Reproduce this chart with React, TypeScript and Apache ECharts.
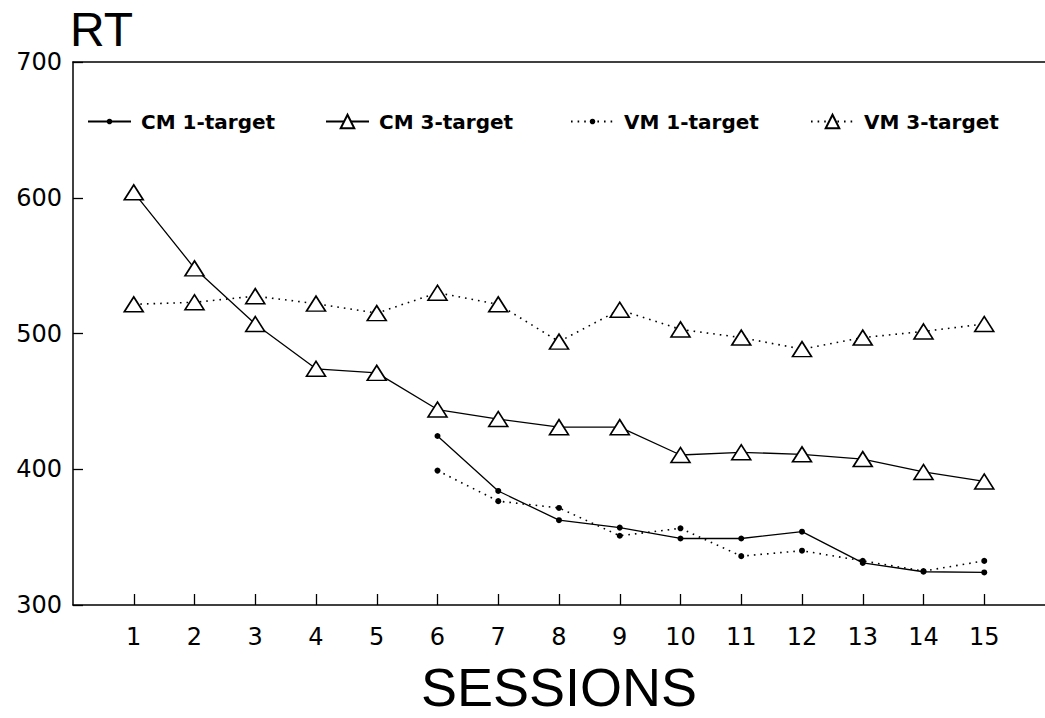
import React, { useEffect, useRef } from "react";
import * as echarts from "echarts";

const sessions = [1, 2, 3, 4, 5, 6, 7, 8, 9, 10, 11, 12, 13, 14, 15];
const yTicks = [300, 400, 500, 600, 700];

const cm1Sessions = [6, 7, 8, 9, 10, 11, 12, 13, 14, 15];
const cm1Values = [424.5, 384, 362.5, 357, 349, 349, 354, 331, 324.5, 324];

const cm3Values = [604, 548, 507, 474, 471, 444, 437, 431, 431, 410.5, 412.5, 411, 407.5, 398, 391];

const vm1Sessions = [6, 7, 8, 9, 10, 11, 12, 13, 14, 15];
const vm1Values = [399, 376.5, 371.5, 351, 356.5, 336, 340, 332.5, 325, 332.5];

const vm3Values = [521.5, 523, 527.5, 522, 515, 530, 521.5, 494, 517.5, 503, 497, 488.5, 497, 501.5, 507];

const seriesNames = ["CM 1-target", "CM 3-target", "VM 1-target", "VM 3-target"];

const TICK_FONT = "'DejaVu Sans', sans-serif";
const TITLE_FONT = "'Liberation Sans', Arial, sans-serif";

export default function App() {
  const ref = useRef<HTMLDivElement>(null);

  useEffect(() => {
    if (!ref.current) return;
    const chart = echarts.init(ref.current, undefined, { renderer: "svg" });

    const pair = (xs: number[], ys: number[]) => xs.map((x, i) => [x, ys[i]]);

    const legendBase = (name: string, left: number, itemHeight: number) => ({
      data: [name],
      left,
      top: 111.5,
      orient: "horizontal",
      padding: 0,
      itemWidth: 43,
      itemHeight,
      selectedMode: false,
      textStyle: {
        fontSize: 20,
        fontWeight: "bold",
        color: "#000",
        fontFamily: TICK_FONT,
        padding: [0, 0, 0, 5],
      },
    });

    const option: any = {
      animation: false,
      backgroundColor: "#fff",
      grid: { left: 73, right: -1, top: 62, bottom: 113, containLabel: false },
      legend: [
        legendBase(seriesNames[0], 87, 7),
        legendBase(seriesNames[1], 325, 17),
        legendBase(seriesNames[2], 570, 7),
        legendBase(seriesNames[3], 810, 17),
      ],
      xAxis: [
        {
          type: "value",
          min: 0,
          max: 16,
          interval: 1,
          position: "bottom",
          axisLine: { show: true, onZero: false, lineStyle: { color: "#000", width: 1.5 } },
          axisTick: {
            show: true,
            inside: true,
            length: 11,
            customValues: sessions,
            lineStyle: { color: "#000", width: 1.3 },
          },
          axisLabel: {
            show: true,
            customValues: sessions,
            margin: 20,
            fontSize: 24,
            color: "#000",
            fontFamily: TICK_FONT,
          },
          splitLine: { show: false },
        },
        {
          type: "value",
          min: 0,
          max: 16,
          position: "top",
          axisLine: { show: true, onZero: false, lineStyle: { color: "#000", width: 1.5 } },
          axisTick: { show: false },
          axisLabel: { show: false },
          splitLine: { show: false },
        },
      ],
      yAxis: {
        type: "value",
        min: 300,
        max: 700,
        interval: 100,
        axisLine: { show: true, onZero: false, lineStyle: { color: "#000", width: 1.5 } },
        axisTick: { show: true, inside: true, length: 10, lineStyle: { color: "#000", width: 1.3 } },
        axisLabel: {
          margin: 11,
          fontSize: 24,
          color: "#000",
          fontFamily: TICK_FONT,
          customValues: yTicks,
        },
        splitLine: { show: false },
      },
      graphic: [
        {
          type: "text",
          left: 70,
          top: 5,
          style: {
            text: "RT",
            fontSize: 48,
            fontFamily: TITLE_FONT,
            fill: "#000",
          },
        },
        {
          type: "text",
          x: 559,
          y: 687,
          style: {
            text: "SESSIONS",
            fontSize: 54,
            fontFamily: TITLE_FONT,
            fill: "#000",
            align: "center",
            verticalAlign: "middle",
          },
        },
      ],
      series: [
        {
          name: seriesNames[0],
          type: "line",
          data: pair(cm1Sessions, cm1Values),
          symbol: "circle",
          symbolSize: 6,
          showAllSymbol: true,
          lineStyle: { color: "#000", width: 1.3, type: "solid" },
          itemStyle: { color: "#000" },
          z: 3,
        },
        {
          name: seriesNames[1],
          type: "line",
          data: pair(sessions, cm3Values),
          symbol: "triangle",
          symbolSize: [19, 15],
          showAllSymbol: true,
          lineStyle: { color: "#000", width: 1.3, type: "solid" },
          itemStyle: { color: "#fff", borderColor: "#000", borderWidth: 1.6 },
          z: 4,
        },
        {
          name: seriesNames[2],
          type: "line",
          data: pair(vm1Sessions, vm1Values),
          symbol: "circle",
          symbolSize: 6,
          showAllSymbol: true,
          lineStyle: { color: "#000", width: 1.6, type: [1.6, 5] },
          itemStyle: { color: "#000" },
          z: 3,
        },
        {
          name: seriesNames[3],
          type: "line",
          data: pair(sessions, vm3Values),
          symbol: "triangle",
          symbolSize: [19, 15],
          showAllSymbol: true,
          lineStyle: { color: "#000", width: 1.6, type: [1.6, 5] },
          itemStyle: { color: "#fff", borderColor: "#000", borderWidth: 1.6 },
          z: 4,
        },
      ],
    };

    chart.setOption(option);
    return () => {
      chart.dispose();
    };
  }, []);

  return (
    <div
      ref={ref}
      style={{ position: "fixed", left: 0, top: 0, width: 1045, height: 718, background: "#fff" }}
    />
  );
}
